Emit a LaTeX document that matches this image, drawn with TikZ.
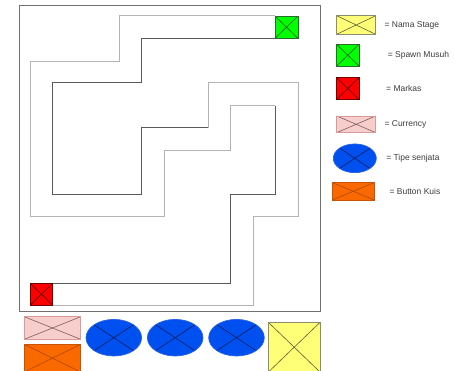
\documentclass[tikz,border=0pt]{standalone}
\usepackage{fontspec}
\setmainfont{Liberation Sans}
\usetikzlibrary{positioning, shapes.geometric}
\definecolor{Frame}  {HTML}{707070}
\definecolor{LineL}  {HTML}{B4B4B4}
\definecolor{LineD}  {HTML}{5A5A5A}
\definecolor{TxtG}   {HTML}{3C3C3C}
\definecolor{StageF} {HTML}{FFFF77}
\definecolor{StageB} {HTML}{8C8C6E}
\definecolor{StageX} {HTML}{5E5E3A}
\definecolor{SpawnF} {HTML}{00FF00}
\definecolor{SpawnB} {HTML}{2A6A2A}
\definecolor{SpawnX} {HTML}{1E5A1E}
\definecolor{BaseF}  {HTML}{FF0000}
\definecolor{BaseB}  {HTML}{6E0000}
\definecolor{BaseX}  {HTML}{5A0000}
\definecolor{CoinF}  {HTML}{F8CECC}
\definecolor{CoinB}  {HTML}{D79B98}
\definecolor{CoinX}  {HTML}{7A5E5E}
\definecolor{GunF}   {HTML}{0050EF}
\definecolor{GunB}   {HTML}{2A62E6}
\definecolor{GunX}   {HTML}{0A1E60}
\definecolor{QuizF}  {HTML}{FA6800}
\definecolor{QuizB}  {HTML}{C75400}
\definecolor{QuizX}  {HTML}{B04A00}
\tikzset{
  tile/.style args={#1/#2/#3}{
    rectangle, draw=#1, fill=#2,
    inner sep=0pt, line width=0.7pt,
    path picture={
      \draw[#3, line width=0.6pt]
        (path picture bounding box.north west) -- (path picture bounding box.south east)
        (path picture bounding box.south west) -- (path picture bounding box.north east);
    },
  },
  gun/.style={tile=GunB/GunF/GunX, ellipse},
  lightline/.style={draw=LineL, line width=0.8pt},
  darkline/.style={draw=LineD, line width=0.8pt},
  legtxt/.style={
    font=\fontsize{8.5}{10}\selectfont, text=TxtG,
    inner sep=1pt,
  },
}
\begin{document}
\begin{tikzpicture}[x=1pt,y=-1pt]
  \useasboundingbox (0,0) rectangle (455,371);
  \clip (0,0) rectangle (455,371);

  % map frame
  \draw[Frame, line width=0.9pt] (19.5,5.5) rectangle (320,311);

  \node[tile=SpawnB/SpawnF/SpawnX, minimum width=23pt, minimum height=22.3pt]
        (spawn) at (286.5,27.2) {};
  \node[tile=BaseB/BaseF/BaseX, minimum width=22.4pt, minimum height=21.7pt]
        (markas) at (41.5,294.2) {};

  % path walls
  \draw[lightline] (spawn.north west) -| (119.5,61) -| (30.3,216) -| (164,150)
        -| (230.3,105.7) -- (275.3,105.7) coordinate (a1);
  \draw[darkline] (a1) |- (230.3,194.3) |- (markas.north east);
  \draw[darkline] (spawn.south west) -| (141.7,82.7) -| (52.3,194.3)
        -| (141.7,127.7) -- (208.7,127.7) coordinate (b1);
  \draw[lightline] (b1) |- (298,82.7) |- (253.3,216) |- (markas.south east);

  % legend
  \node[tile=StageB/StageF/StageX, minimum width=39pt, minimum height=18.6pt]
        (legStage) at (356.2,25) {};
  \node[tile=SpawnB/SpawnF/SpawnX, minimum width=22.3pt, minimum height=21.7pt]
        (legSpawn) at (347.8,55.2) {};
  \node[tile=BaseB/BaseF/BaseX, minimum width=22.3pt, minimum height=21.6pt]
        (legMarkas) at (347.8,88.5) {};
  \node[tile=CoinB/CoinF/CoinX, minimum width=39pt, minimum height=16.7pt]
        (legCurrency) at (356.2,124.3) {};
  \node[gun, minimum width=43pt, minimum height=28.7pt]
        (legSenjata) at (354.8,158.3) {};
  \node[tile=QuizB/QuizF/QuizX, minimum width=42pt, minimum height=17.3pt]
        (legKuis) at (353.3,191.3) {};

  \node[legtxt, right=7.3pt of legStage]    (tStage)    {= Nama Stage};
  \node[legtxt, right=27.3pt of legSpawn]   (tSpawn)    {= Spawn Musuh};
  \node[legtxt, right=25.7pt of legMarkas]  (tMarkas)   {= Markas};
  \node[legtxt, right=7.3pt of legCurrency] (tCurrency) {= Currency};
  \node[legtxt, right=8.4pt of legSenjata]  (tSenjata)  {= Tipe senjata};
  \node[legtxt, right=13.7pt of legKuis]    (tKuis)     {= Button Kuis};

  % bottom tray
  \node[tile=CoinB/CoinF/CoinX, minimum width=56.4pt, minimum height=22.6pt]
        (currency) at (52.5,328) {};
  \node[tile=QuizB/QuizF/QuizX, minimum width=56.4pt, minimum height=27.7pt]
        (kuis) at (52.5,358.2) {};
  \foreach \x [count=\i] in {113.8,175.2,236.5}
    \node[gun, minimum width=55.6pt, minimum height=36.6pt]
          (senjata\i) at (\x,337.7) {};
  \node[tile=StageB/StageF/StageX, minimum width=51.7pt, minimum height=49.7pt]
        (stage) at (294.2,347.2) {};

\end{tikzpicture}
\end{document}
